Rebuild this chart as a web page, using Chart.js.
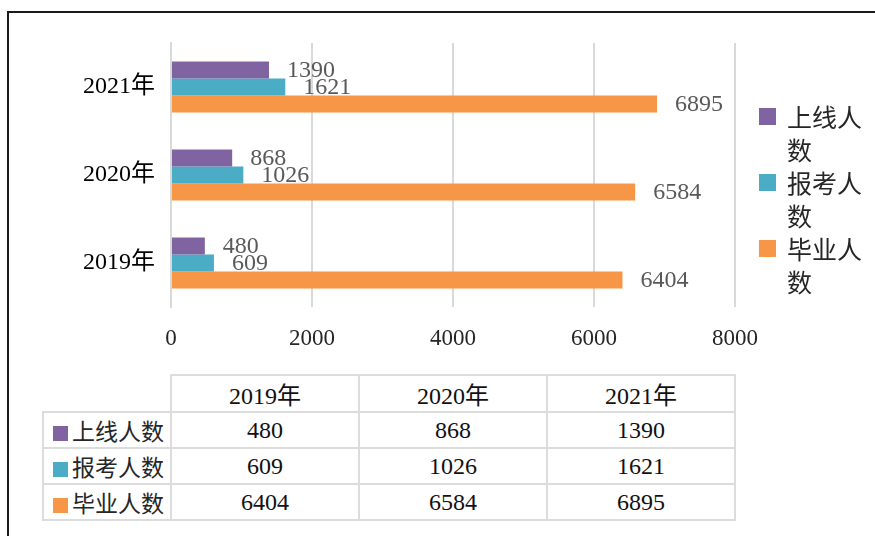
<!DOCTYPE html>
<html>
<head>
<meta charset="utf-8">
<script src="https://cdn.jsdelivr.net/npm/chart.js@4.4.1/dist/chart.umd.min.js"></script>
<style>
  body { margin: 0; background: #fff; width: 875px; height: 536px; overflow: hidden; position: relative;
         font-family: "Liberation Serif", "Noto Sans CJK SC", serif; }
  .frame { position: absolute; left: 7px; top: 11px; width: 900px; height: 600px; border: 2px solid #1a1a1a; box-sizing: border-box; }
  .wrap { position: absolute; left: 0; top: 0; width: 875px; height: 360px; }
  .legend { position: absolute; left: 759px; top: 100px; }
  .legend .item { position: relative; padding-left: 28px; width: 80px; font-size: 25px; line-height: 33px;
                  font-family: "Noto Sans CJK SC", sans-serif; color: #262626; }
  .legend .sw { position: absolute; left: 0; top: 8px; width: 17px; height: 17px; }
  table { position: absolute; left: 42px; top: 374px; border-collapse: collapse; font-size: 24px; color: #111; }
  td { border: 2px solid #dcdcdc; height: 34px; padding: 0; text-align: center; }
  td.num { width: 186px; }
  td.lab { width: 126px; text-align: left; font-family: "Noto Sans CJK SC", sans-serif; font-size: 23px; color: #262626; }
  td.lab span { display: inline-block; width: 15px; height: 15px; margin: 0 4px 0 9px; vertical-align: -1px; }
  td.empty { border: none; border-right: 2px solid #dcdcdc; border-bottom: 2px solid #dcdcdc; }
</style>
</head>
<body>
<div class="frame"></div>
<div class="wrap"><canvas id="myChart"></canvas></div>
<div class="legend" id="legend"></div>
<table id="dataTable"></table>
<script>
const years = ["2019年", "2020年", "2021年"];
const seriesNames = ["上线人数", "报考人数", "毕业人数"];
const online = [480, 868, 1390];
const applied = [609, 1026, 1621];
const graduated = [6404, 6584, 6895];
const xTicks = [0, 2000, 4000, 6000, 8000];
const colors = ["#8064a2", "#4bacc6", "#f79646"];

const allSeries = [online, applied, graduated];

// numbers printed just past the end of each bar
const valueLabels = {
  id: "valueLabels",
  afterDatasetsDraw(chart) {
    const ctx = chart.ctx;
    ctx.save();
    ctx.font = "24px 'Liberation Serif', serif";
    ctx.fillStyle = "#595959";
    ctx.textBaseline = "middle";
    ctx.textAlign = "left";
    chart.data.datasets.forEach((ds, i) => {
      chart.getDatasetMeta(i).data.forEach((bar, j) => {
        ctx.fillText(ds.data[j], bar.x + 18, bar.y + 1);
      });
    });
    ctx.restore();
  },
};

const ctx = document.getElementById("myChart").getContext("2d");
const chartOne = new Chart(ctx, {
  type: "bar",
  data: {
    labels: years,
    datasets: seriesNames.map((name, i) => ({
      label: name,
      data: allSeries[i],
      backgroundColor: colors[i],
      categoryPercentage: 0.58,
      barPercentage: 1,
    })),
  },
  options: {
    indexAxis: "y",
    responsive: true,
    maintainAspectRatio: false,
    animation: false,
    layout: { padding: { left: 0, right: 140, top: 43, bottom: 0 } },
    plugins: { legend: { display: false }, tooltip: { enabled: false } },
    scales: {
      x: {
        min: 0,
        max: 8000,
        afterBuildTicks: (scale) => { scale.ticks = xTicks.map((v) => ({ value: v })); },
        afterFit: (scale) => { scale.height = 53; },
        grid: { color: "#d9d9d9", lineWidth: 2, drawTicks: false },
        border: { display: false },
        ticks: {
          padding: 18,
          color: "#262626",
          font: { family: "'Liberation Serif', serif", size: 23 },
          callback: (value) => String(value),
        },
      },
      y: {
        reverse: true,
        afterFit: (scale) => { scale.width = 171; },
        grid: { display: false, drawTicks: false },
        border: { display: true, color: "#d9d9d9", width: 2 },
        ticks: { padding: 16, color: "#000", font: { family: "'Liberation Serif', 'Noto Sans CJK SC', serif", size: 24 } },
      },
    },
  },
  plugins: [valueLabels],
});

// legend
const legend = document.getElementById("legend");
seriesNames.forEach((name, i) => {
  const item = document.createElement("div");
  item.className = "item";
  item.innerHTML = '<span class="sw" style="background:' + colors[i] + '"></span>' + name;
  legend.appendChild(item);
});

// data table
const table = document.getElementById("dataTable");
let html = '<tr><td class="empty"></td>' + years.map((y) => '<td class="num">' + y + "</td>").join("") + "</tr>";
seriesNames.forEach((name, i) => {
  html += '<tr><td class="lab"><span style="background:' + colors[i] + '"></span>' + name + "</td>";
  html += allSeries[i].map((v) => '<td class="num">' + v + "</td>").join("") + "</tr>";
});
table.innerHTML = html;
</script>
</body>
</html>
